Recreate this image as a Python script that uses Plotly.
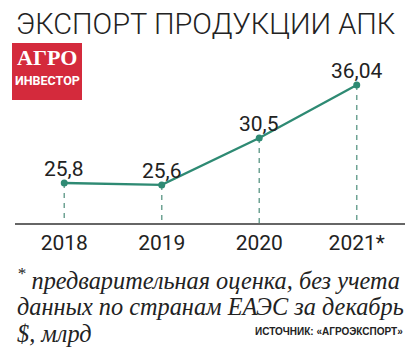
import plotly.graph_objects as go

years = [2018, 2019, 2020, 2021]
tick_labels = ["2018", "2019", "2020", "2021*"]
values = [25.8, 25.6, 30.5, 36.04]
value_labels = ["25,8", "25,6", "30,5", "36,04"]

title = "ЭКСПОРТ ПРОДУКЦИИ АПК"
note_lines = ["<sup>*</sup> предварительная оценка, без учета",
              "данных по странам ЕАЭС за декабрь",
              "$, млрд"]
source = "ИСТОЧНИК: «АГРОЭКСПОРТ»"

W, H = 416, 353
L, R, T, B = 15, 11, 60, 130
PW, PH = W - L - R, H - T - B
Y0, Y1 = 21.62, 21.62 + PH / 9.57
X0, X1 = 2017.495, 2021.495

def px(x):
    return (x - L) / PW

def py(y):
    return (T + PH - y) / PH

LINE = "#2e8a73"
DASH = "#6fa394"
SANS = "Roboto"

fig = go.Figure()

# dashed drop lines
dx, dy = [], []
for x, v in zip(years, values):
    dx += [x, x, None]
    dy += [v, Y0, None]
fig.add_trace(go.Scatter(x=dx, y=dy, mode="lines",
                         line=dict(color=DASH, width=1.5, dash="5px,5px"),
                         hoverinfo="skip", showlegend=False))

fig.add_trace(go.Scatter(x=years, y=values, mode="lines+markers",
                         line=dict(color=LINE, width=2.3),
                         marker=dict(color=LINE, size=7),
                         showlegend=False))

fig.update_xaxes(range=[X0, X1], tickvals=years, ticktext=tick_labels,
                 showgrid=False, zeroline=False, showline=True,
                 linecolor="#666", linewidth=1.5, ticks="",
                 tickfont=dict(family=SANS, size=21, color="#222"))
fig.update_yaxes(range=[Y0, Y1], visible=False, showgrid=False, zeroline=False)

ann = []
for x, v, t in zip(years, values, value_labels):
    ann.append(dict(text=t, x=x, y=v, xref="x", yref="y", xanchor="center",
                    yanchor="bottom", yshift=0, showarrow=False,
                    font=dict(family=SANS, size=21, color="#222")))

pa = []
pa.append(dict(text=title, x=px(14), y=py(24), xanchor="left", yanchor="middle",
               font=dict(family=SANS, size=29, color="#222", weight=300)))
# logo
fig.add_shape(type="rect", xref="paper", yref="paper",
              x0=px(12), x1=px(82), y0=py(100), y1=py(43),
              fillcolor="#d42a3c", line=dict(width=0), layer="above")
pa.append(dict(text="<b>АГРО</b>", x=px(47), y=py(57), xanchor="center", yanchor="middle",
               font=dict(family="Liberation Serif", size=22, color="white")))
pa.append(dict(text="<b>ИНВЕСТОР</b>", x=px(47), y=py(80), xanchor="center", yanchor="middle",
               font=dict(family=SANS, size=12.5, color="white")))
for i, line in enumerate(note_lines):
    pa.append(dict(text=line, x=px(15), y=py(279 + i * 27), xanchor="left", yanchor="middle",
                   font=dict(family="Liberation Serif", size=24.3, color="#222", style="italic")))
pa.append(dict(text="<b>" + source + "</b>", x=px(405), y=py(331), xanchor="right", yanchor="middle",
               font=dict(family="Liberation Sans, Arial", size=10, color="#222")))
for a in pa:
    a.update(xref="paper", yref="paper", showarrow=False)
ann += pa

fig.update_layout(width=W, height=H, margin=dict(l=L, r=R, t=T, b=B),
                  paper_bgcolor="white", plot_bgcolor="white",
                  annotations=ann)
fig.write_html("out.html")
